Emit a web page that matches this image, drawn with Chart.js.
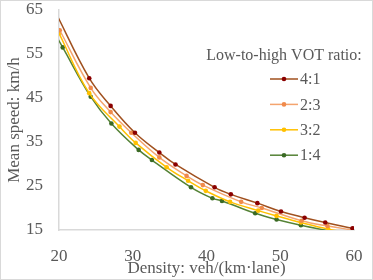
<!DOCTYPE html>
<html><head><meta charset="utf-8">
<script src="https://cdn.jsdelivr.net/npm/chart.js@4"></script>
<style>
html,body{margin:0;padding:0;background:#fff;}
#wrap{position:relative;width:373px;height:280px;}
#wrap:after{content:"";position:absolute;left:0;top:0;right:0;bottom:0;border:1px solid #d9d9d9;pointer-events:none;box-sizing:border-box}
canvas{display:block}
</style></head><body>
<div id="wrap"><canvas id="c" width="373" height="280"></canvas></div>
<script>
const legendTitle = 'Low-to-high VOT ratio:';
const seriesNames = ['4:1', '2:3', '3:2', '1:4'];
const xTitle = 'Density: veh/(km·lane)';
const yTitle = 'Mean speed: km/h';
const xTicks = [20, 30, 40, 50, 60];
const yTicks = [15, 25, 35, 45, 55, 65];

const density41 = [19.5, 24.1, 27.0, 30.3, 33.6, 35.8, 41.1, 43.3, 46.9, 50.1, 53.3, 56.1, 59.8];
const speed41   = [64.6, 49.5, 43.2, 37.1, 32.6, 29.9, 24.7, 23.1, 21.1, 19.2, 17.8, 16.7, 15.4];
const density23 = [20.1, 24.3, 27.0, 29.8, 33.6, 37.3, 39.5, 44.7, 47.5, 52.9, 56.4, 60.2];
const speed23   = [60.4, 47.3, 41.8, 37.1, 31.5, 27.3, 25.2, 21.4, 20.0, 17.1, 15.9, 14.9];
const density32 = [20.0, 24.1, 28.2, 30.4, 34.6, 37.5, 39.9, 43.2, 47.0, 49.5, 52.8, 56.5, 60.0];
const speed32   = [59.7, 46.1, 38.5, 34.8, 29.25, 26.2, 23.9, 21.4, 19.4, 18.2, 16.7, 15.2, 14.2];
const density14 = [19.5, 20.5, 24.3, 27.1, 30.8, 32.6, 37.9, 40.8, 42.1, 46.6, 49.5, 52.8, 57.5];
const speed14   = [59.5, 56.5, 45.3, 39.2, 33.2, 30.9, 24.7, 22.2, 21.6, 18.8, 17.4, 16.1, 14.5];

const xs = [density41, density23, density32, density14];
const ys = [speed41, speed23, speed32, speed14];
const lineColors = ['#A0501E', '#F4A46E', '#FFC000', '#548235'];
const markerColors = ['#8B0000', '#F08A4B', '#FFC000', '#3A6A24'];

const FONT = '"Liberation Serif", "Times New Roman", serif';
const TXT = '#595959';

const datasets = seriesNames.map((n, i) => ({
  label: n,
  data: xs[i].map((x, j) => ({x: x, y: ys[i][j]})),
  borderColor: lineColors[i],
  backgroundColor: markerColors[i],
  pointBackgroundColor: markerColors[i],
  pointBorderColor: markerColors[i],
  pointRadius: 2.3,
  pointBorderWidth: 0,
  borderWidth: 1.5,
  showLine: true,
  tension: 0.4,
  fill: false
}));

const legendPlugin = {
  id: 'customLegend',
  afterDatasetsDraw(chart) {
    const ctx = chart.ctx;
    ctx.save();
    ctx.fillStyle = TXT;
    ctx.font = '16px ' + FONT;
    ctx.textBaseline = 'middle';
    ctx.textAlign = 'center';
    ctx.fillText(legendTitle, 284, 56);
    ctx.textAlign = 'left';
    chart.data.datasets.forEach((ds, i) => {
      const y = 79 + i * 25.4;
      ctx.strokeStyle = ds.borderColor;
      ctx.lineWidth = 1.5;
      ctx.beginPath(); ctx.moveTo(270, y); ctx.lineTo(298, y); ctx.stroke();
      ctx.fillStyle = ds.pointBackgroundColor;
      ctx.beginPath(); ctx.arc(284, y, 2.3, 0, Math.PI * 2); ctx.fill();
      ctx.fillStyle = TXT;
      ctx.fillText(ds.label, 300, y + 1);
    });
    ctx.restore();
  }
};

new Chart(document.getElementById('c'), {
  type: 'scatter',
  data: { datasets },
  plugins: [legendPlugin],
  options: {
    responsive: false,
    animation: false,
    devicePixelRatio: 1,
    layout: { padding: { left: 0, right: 19, top: 10, bottom: 0 } },
    plugins: { legend: { display: false }, tooltip: { enabled: false } },
    scales: {
      x: {
        type: 'linear', min: 20, max: 60,
        afterBuildTicks: s => { s.ticks = xTicks.map(v => ({value: v})); },
        afterFit: s => { s.height = 50; s.paddingLeft = 0; s.paddingRight = 0; },
        grid: { display: false },
        border: { display: true, color: '#d9d9d9', width: 1.5 },
        ticks: { color: TXT, font: { family: FONT, size: 17 }, padding: 8 },
        title: { display: true, text: xTitle, color: TXT, font: { family: FONT, size: 17 }, padding: { top: 0, bottom: 1 } }
      },
      y: {
        type: 'linear', min: 15, max: 65,
        afterBuildTicks: s => { s.ticks = yTicks.map(v => ({value: v})); },
        afterFit: s => { s.width = 59; s.paddingTop = 0; s.paddingBottom = 0; },
        grid: { display: false },
        border: { display: true, color: '#d9d9d9', width: 1.5 },
        ticks: { color: TXT, font: { family: FONT, size: 17 }, padding: 8 },
        title: { display: true, text: yTitle, color: TXT, font: { family: FONT, size: 17 }, padding: { top: 4, bottom: 0 } }
      }
    }
  }
});
</script>
</body></html>
